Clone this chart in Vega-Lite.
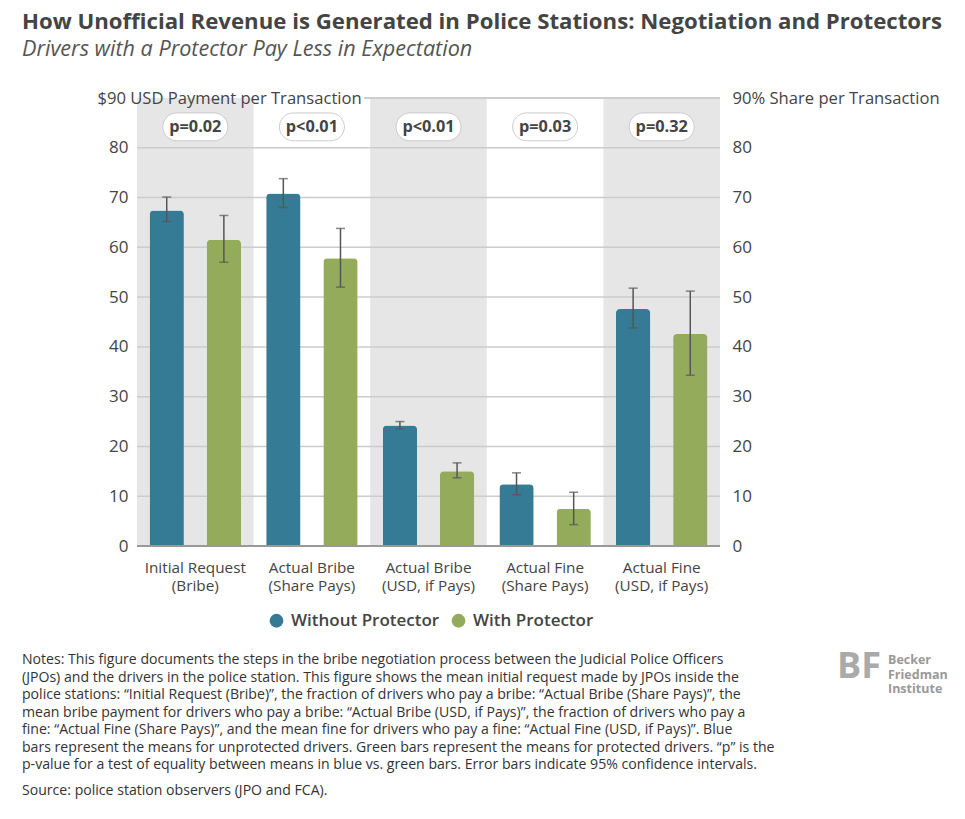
{
  "$schema": "https://vega.github.io/schema/vega-lite/v6.json",
  "background": "white",
  "padding": {"left": 22, "top": 11, "right": 10, "bottom": 10},
  "spacing": 55,
  "config": {
    "font": "Open Sans",
    "view": {"stroke": null},
    "axis": {"labelColor": "#444", "titleColor": "#444"}
  },
  "title": {
    "text": "How Unofficial Revenue is Generated in Police Stations: Negotiation and Protectors",
    "subtitle": "Drivers with a Protector Pay Less in Expectation",
    "anchor": "start",
    "frame": "bounds",
    "fontSize": 22.2,
    "fontWeight": "bold",
    "color": "#444",
    "subtitleFontSize": 21.6,
    "subtitleFontStyle": "italic",
    "subtitleColor": "#555",
    "subtitlePadding": 6,
    "offset": 29
  },
  "datasets": {
    "bars": [
      {"measure": "Initial Request (Bribe)", "protector": "Without Protector", "mean": 67.4, "lo": 65.2, "hi": 70.1},
      {"measure": "Initial Request (Bribe)", "protector": "With Protector", "mean": 61.5, "lo": 57.0, "hi": 66.4},
      {"measure": "Actual Bribe (Share Pays)", "protector": "Without Protector", "mean": 70.8, "lo": 68.0, "hi": 73.8},
      {"measure": "Actual Bribe (Share Pays)", "protector": "With Protector", "mean": 57.8, "lo": 52.0, "hi": 63.8},
      {"measure": "Actual Bribe (USD, if Pays)", "protector": "Without Protector", "mean": 24.2, "lo": 23.5, "hi": 25.0},
      {"measure": "Actual Bribe (USD, if Pays)", "protector": "With Protector", "mean": 15.0, "lo": 13.7, "hi": 16.7},
      {"measure": "Actual Fine (Share Pays)", "protector": "Without Protector", "mean": 12.4, "lo": 10.3, "hi": 14.7},
      {"measure": "Actual Fine (Share Pays)", "protector": "With Protector", "mean": 7.5, "lo": 4.3, "hi": 10.8},
      {"measure": "Actual Fine (USD, if Pays)", "protector": "Without Protector", "mean": 47.6, "lo": 43.8, "hi": 51.8},
      {"measure": "Actual Fine (USD, if Pays)", "protector": "With Protector", "mean": 42.6, "lo": 34.3, "hi": 51.2}
    ],
    "panels": [
      {"measure": "Initial Request (Bribe)", "p": "p=0.02"},
      {"measure": "Actual Bribe (Share Pays)", "p": "p<0.01"},
      {"measure": "Actual Bribe (USD, if Pays)", "p": "p<0.01"},
      {"measure": "Actual Fine (Share Pays)", "p": "p=0.03"},
      {"measure": "Actual Fine (USD, if Pays)", "p": "p=0.32"}
    ],
    "grid": [
      {"level": 10}, {"level": 20}, {"level": 30}, {"level": 40},
      {"level": 50}, {"level": 60}, {"level": 70}, {"level": 80}
    ]
  },
  "vconcat": [
    {
      "width": 583,
      "height": 448,
      "resolve": {"axis": {"y": "independent"}},
      "layer": [
        {
          "data": {"name": "panels"},
          "transform": [
            {"window": [{"op": "row_number", "as": "n"}]},
            {"filter": "datum.n % 2 == 1"}
          ],
          "mark": {"type": "rect", "color": "#e6e6e6"},
          "encoding": {
            "x": {
              "field": "measure",
              "type": "nominal",
              "sort": null,
              "scale": {
                "domain": ["Initial Request (Bribe)", "Actual Bribe (Share Pays)", "Actual Bribe (USD, if Pays)", "Actual Fine (Share Pays)", "Actual Fine (USD, if Pays)"],
                "paddingInner": 0,
                "paddingOuter": 0
              },
              "axis": {
                "title": null,
                "labelAngle": 0,
                "labelFontSize": 15.3,
                "labelLineHeight": 18,
                "labelPadding": 14,
                "labelBaseline": "top",
                "labelColor": "#444",
                "ticks": false,
                "domain": false,
                "labelExpr": "[slice(datum.label, 0, indexof(datum.label, ' (')), slice(datum.label, indexof(datum.label, ' (') + 1)]"
              }
            },
            "y": {"datum": 0, "type": "quantitative", "axis": null, "scale": {"domain": [0, 90], "nice": false}},
            "y2": {"datum": 90}
          }
        },
        {
          "data": {"name": "grid"},
          "mark": {"type": "rule", "color": "#cccccc", "strokeWidth": 1.5},
          "encoding": {
            "y": {"field": "level", "type": "quantitative", "axis": null}
          }
        },
        {
          "data": {"name": "grid"},
          "mark": {"type": "rule", "color": "#cccccc", "strokeWidth": 1.5},
          "encoding": {
            "x": {"datum": "Actual Bribe (Share Pays)", "bandPosition": 0.95, "axis": {"title": null}},
            "x2": {"datum": "Actual Fine (USD, if Pays)", "bandPosition": 1},
            "y": {"datum": 90, "type": "quantitative", "axis": null}
          }
        },
        {
          "data": {"name": "bars"},
          "mark": {"type": "bar", "cornerRadiusTopLeft": 4, "cornerRadiusTopRight": 4},
          "encoding": {
            "x": {"field": "measure", "type": "nominal", "sort": null, "axis": {"title": null}},
            "xOffset": {
              "field": "protector",
              "type": "nominal",
              "sort": ["Without Protector", "With Protector"],
              "scale": {"paddingInner": 0.4, "paddingOuter": 0.22}
            },
            "y": {
              "field": "mean",
              "type": "quantitative",
              "axis": {
                "orient": "left",
                "zindex": 1,
                "values": [0, 10, 20, 30, 40, 50, 60, 70, 80],
                "grid": false,
                "domain": false,
                "ticks": false,
                "labelFontSize": 17,
                "labelPadding": 9,
                "title": "$90 USD Payment per Transaction",
                "titleAngle": 0,
                "titleAlign": "left",
                "titleBaseline": "middle",
                "titleX": -40,
                "titleY": 0,
                "titleFontSize": 16.6,
                "titleFontWeight": "normal"
              }
            },
            "color": {
              "field": "protector",
              "type": "nominal",
              "scale": {"domain": ["Without Protector", "With Protector"], "range": ["#367b96", "#93ab5a"]},
              "legend": {
                "orient": "none",
                "legendX": 131,
                "legendY": 514,
                "direction": "horizontal",
                "title": null,
                "symbolType": "circle",
                "symbolSize": 190,
                "symbolStrokeWidth": 0,
                "labelFontSize": 17,
                "labelFontWeight": 600,
                "labelColor": "#444",
                "columnPadding": 10,
                "labelOffset": 6
              }
            }
          }
        },
        {
          "data": {"name": "bars"},
          "mark": {"type": "rule", "color": "#555", "strokeWidth": 1.5},
          "encoding": {
            "x": {"field": "measure", "type": "nominal", "sort": null, "axis": {"title": null}},
            "xOffset": {"field": "protector", "type": "nominal", "sort": ["Without Protector", "With Protector"]},
            "y": {"field": "lo", "type": "quantitative", "axis": null},
            "y2": {"field": "hi"}
          }
        },
        {
          "data": {"name": "bars"},
          "transform": [{"fold": ["lo", "hi"], "as": ["end", "value"]}],
          "mark": {"type": "tick", "color": "#555", "thickness": 1.5, "size": 9},
          "encoding": {
            "x": {"field": "measure", "type": "nominal", "sort": null, "axis": {"title": null}},
            "xOffset": {"field": "protector", "type": "nominal", "sort": ["Without Protector", "With Protector"]},
            "y": {"field": "value", "type": "quantitative", "axis": null}
          }
        },
        {
          "data": {"name": "panels"},
          "mark": {"type": "bar", "width": 65, "cornerRadius": 14, "fill": "white", "stroke": "#cccccc", "strokeWidth": 1},
          "encoding": {
            "x": {"field": "measure", "type": "nominal", "sort": null, "axis": {"title": null}},
            "y": {"datum": 81.4, "type": "quantitative", "axis": null},
            "y2": {"datum": 87.0}
          }
        },
        {
          "data": {"name": "panels"},
          "mark": {"type": "text", "fontSize": 16.3, "fontWeight": "bold", "color": "#444", "baseline": "middle"},
          "encoding": {
            "x": {"field": "measure", "type": "nominal", "sort": null, "axis": {"title": null}},
            "y": {"datum": 84.2, "type": "quantitative", "axis": null},
            "text": {"field": "p"}
          }
        },
        {
          "data": {"name": "grid"},
          "mark": {"type": "rule", "color": "#999999", "strokeWidth": 2},
          "encoding": {
            "y": {
              "datum": 0,
              "type": "quantitative",
              "axis": {
                "orient": "right",
                "zindex": 1,
                "values": [0, 10, 20, 30, 40, 50, 60, 70, 80],
                "grid": false,
                "domain": false,
                "ticks": false,
                "labelFontSize": 17,
                "labelPadding": 12,
                "title": "90% Share per Transaction",
                "titleAngle": 0,
                "titleAlign": "left",
                "titleBaseline": "middle",
                "titleX": 12,
                "titleY": 0,
                "titleFontSize": 16.6,
                "titleFontWeight": "normal"
              }
            }
          }
        }
      ]
    },
    {
      "spacing": 0,
      "hconcat": [
        {
          "width": 1,
          "height": 1,
          "data": {"values": []},
          "mark": "point",
          "title": {
            "text": [
              "Notes: This figure documents the steps in the bribe negotiation process between the Judicial Police Officers",
              "(JPOs) and the drivers in the police station. This figure shows the mean initial request made by JPOs inside the",
              "police stations: “Initial Request (Bribe)”, the fraction of drivers who pay a bribe: “Actual Bribe (Share Pays)”, the",
              "mean bribe payment for drivers who pay a bribe: “Actual Bribe (USD, if Pays)”, the fraction of drivers who pay a",
              "fine: “Actual Fine (Share Pays)”, and the mean fine for drivers who pay a fine: “Actual Fine (USD, if Pays)”.  Blue",
              "bars represent the means for unprotected drivers. Green bars represent the means for protected drivers. “p” is the",
              "p-value for a test of equality between means in blue vs. green bars. Error bars indicate 95% confidence intervals."
            ],
            "subtitle": "Source: police station observers (JPO and FCA).",
            "orient": "bottom",
            "anchor": "start",
            "frame": "bounds",
            "offset": 0,
            "dx": -115,
            "fontSize": 14.1,
            "fontWeight": "normal",
            "lineHeight": 17.5,
            "color": "#333",
            "subtitleFontSize": 14.1,
            "subtitleColor": "#333",
            "subtitlePadding": 12
          }
        },
        {
          "width": 1,
          "height": 1,
          "data": {"values": []},
          "mark": "point",
          "title": {
            "text": "BF",
            "orient": "bottom",
            "anchor": "start",
            "offset": -3,
            "dx": 62,
            "fontSize": 36,
            "fontWeight": "bold",
            "color": "#aaaaaa"
          }
        },
        {
          "width": 1,
          "height": 1,
          "data": {"values": []},
          "mark": "point",
          "title": {
            "text": ["Becker", "Friedman", "Institute"],
            "orient": "bottom",
            "anchor": "start",
            "offset": 1,
            "dx": 7,
            "fontSize": 12.5,
            "fontWeight": "bold",
            "lineHeight": 14.5,
            "color": "#999999"
          }
        }
      ]
    }
  ]
}
